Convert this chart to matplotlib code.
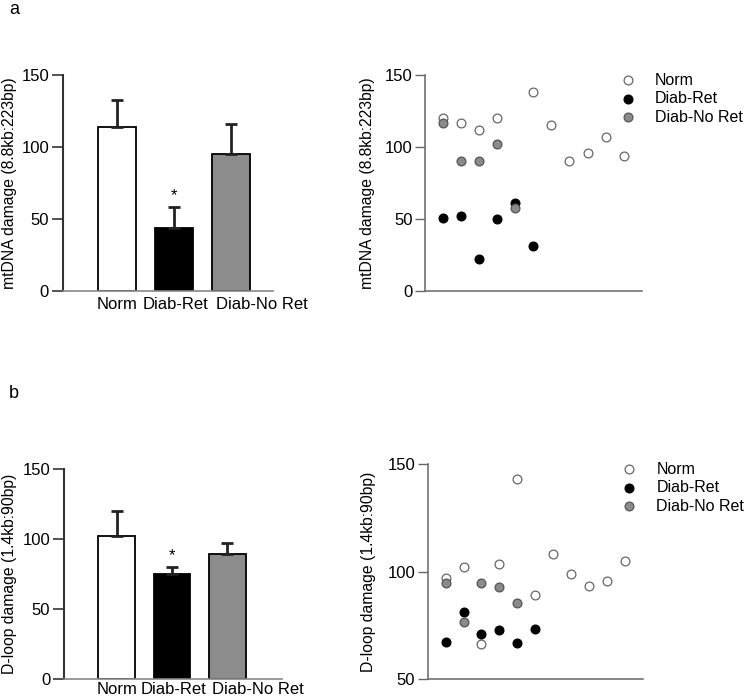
"""Bar and scatter summary of mtDNA / D-loop damage"""

import matplotlib
matplotlib.use("Agg")
import matplotlib.pyplot as plt

plt.rcParams['font.family'] = ['Liberation Sans', 'DejaVu Sans']

groups = ['Norm', 'Diab-Ret', 'Diab-No Ret']
bar_colors = ['white', 'black', '#8c8c8c']

# panel a
mt_means = [114, 44, 95]
mt_err = [19, 14, 21]
# panel b
dl_means = [102, 75, 89]
dl_err = [18, 5, 8]

# individual samples, panel a
mt_norm_x = [1, 2, 3, 4, 6, 7, 8, 9, 10, 11]
mt_norm_y = [120, 117, 112, 120, 138.5, 115, 90.5, 96, 107, 93.5]
mt_ret_x = [1, 2, 3, 4, 5, 6]
mt_ret_y = [50.5, 52, 22.5, 50, 61, 31]
mt_noret_x = [1, 2, 3, 4, 5]
mt_noret_y = [116.5, 90, 90.5, 102, 57.5]

# individual samples, panel b
dl_norm_x = [1, 2, 3, 4, 5, 6, 7, 8, 9, 10, 11]
dl_norm_y = [97, 102, 66.5, 103.5, 143, 89, 108.5, 99, 93.5, 95.5, 105]
dl_ret_x = [1, 2, 3, 4, 5, 6]
dl_ret_y = [67.5, 81.5, 71, 73, 67, 73.5]
dl_noret_x = [1, 2, 3, 4, 5]
dl_noret_y = [95, 76.5, 95, 93, 85.5]

fs = 12
label_fs = 11.3
fig = plt.figure(figsize=(7.47, 6.96), dpi=100)


def bar_panel(rect, means, err, ylabel, xlim, label_x, label_pos, pad):
	ax = fig.add_axes(rect)
	pos = range(len(means))
	ax.bar(pos, means, width=0.67, color=bar_colors, edgecolor='black', linewidth=1.3)
	ax.errorbar(pos, means, yerr=[[0] * len(err), err], fmt='none', ecolor='#222222',
	            elinewidth=2, capsize=4.5, capthick=2)
	# significance star over Diab-Ret
	ax.text(1, means[1] + err[1] + 3, '*', ha='center', va='bottom', fontsize=fs)
	ax.set_ylim(0, 150)
	ax.set_xlim(*xlim)
	ax.set_yticks([0, 50, 100, 150])
	ax.set_xticks(label_x)
	ax.set_xticklabels(groups, fontsize=fs)
	ax.tick_params(axis='x', length=0, pad=pad)
	ax.tick_params(axis='y', length=8, width=1.2, color='#333333', labelsize=fs, pad=2)
	ax.spines['top'].set_visible(False)
	ax.spines['right'].set_visible(False)
	ax.spines['left'].set_color('#333333')
	ax.spines['left'].set_linewidth(1.5)
	ax.spines['bottom'].set_color('#888888')
	ax.spines['bottom'].set_linewidth(1.2)
	ax.set_ylabel(ylabel, fontsize=label_fs)
	ax.yaxis.set_label_coords(label_pos, 0.5)
	return ax


def scatter_panel(rect, data, ylim, yticks, ylabel, label_pos, leg_x, leg_y):
	ax = fig.add_axes(rect)
	(nx, ny), (rx, ry), (gx, gy) = data
	ax.scatter(nx, ny, s=40, facecolor='white', edgecolor='#666666', linewidth=0.9, label='Norm', zorder=3)
	ax.scatter(rx, ry, s=40, facecolor='black', edgecolor='black', linewidth=0.9, label='Diab-Ret', zorder=3)
	ax.scatter(gx, gy, s=40, facecolor='#8a8a8a', edgecolor='#555555', linewidth=0.9, label='Diab-No Ret', zorder=3)
	ax.set_xlim(0, 12)
	ax.set_ylim(*ylim)
	ax.set_xticks([])
	ax.set_yticks(yticks)
	ax.tick_params(axis='y', length=7, width=1, color='#666666', labelsize=fs, pad=2)
	ax.spines['top'].set_visible(False)
	ax.spines['right'].set_visible(False)
	for s in ('left', 'bottom'):
		ax.spines[s].set_color('#666666')
		ax.spines[s].set_linewidth(1.1)
	ax.set_ylabel(ylabel, fontsize=label_fs)
	ax.yaxis.set_label_coords(label_pos, 0.5)
	ax.legend(loc='upper left', bbox_to_anchor=(leg_x, leg_y), frameon=False, fontsize=11.5,
	          handlelength=2.0, handletextpad=0.72, labelspacing=0.22, borderaxespad=0,
	          borderpad=0)
	return ax


bar_panel([0.0843, 0.5819, 0.2811, 0.3103], mt_means, mt_err,
          'mtDNA damage (8.8kb:223bp)', (-0.947, 2.737), [0, 1.035, 2.54], -0.219, 4)
scatter_panel([0.569, 0.5819, 0.290, 0.3103],
              [(mt_norm_x, mt_norm_y), (mt_ret_x, mt_ret_y), (mt_noret_x, mt_noret_y)],
              (0, 150), [0, 50, 100, 150], 'mtDNA damage (8.8kb:223bp)', -0.231, 0.862, 1.011)

bar_panel([0.0857, 0.0249, 0.2914, 0.3008], dl_means, dl_err,
          'D-loop damage (1.4kb:90bp)', (-0.958, 2.99), [0.01, 1.02, 2.55], -0.216, 2.5)
scatter_panel([0.5726, 0.024, 0.2878, 0.3089],
              [(dl_norm_x, dl_norm_y), (dl_ret_x, dl_ret_y), (dl_noret_x, dl_noret_y)],
              (50, 150), [50, 100, 150], 'D-loop damage (1.4kb:90bp)', -0.239, 0.861, 1.013)

fig.text(14 / 747, 1 - 10 / 696, 'a', fontsize=13, ha='center', va='center')
fig.text(14 / 747, 1 - 393 / 696, 'b', fontsize=13, ha='center', va='center')

plt.savefig('out.png', dpi=100)
